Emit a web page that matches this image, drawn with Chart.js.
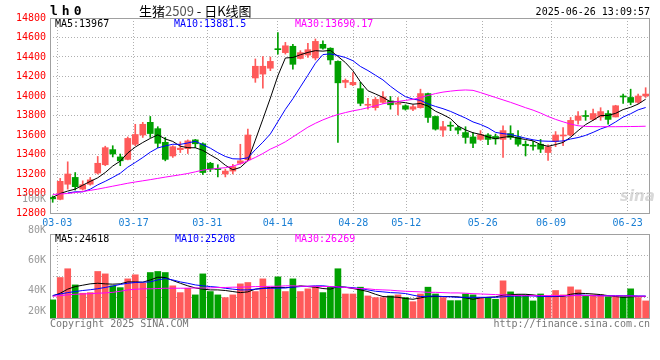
<!DOCTYPE html>
<html>
<head>
<meta charset="utf-8">
<script src="https://cdn.jsdelivr.net/npm/chart.js@4.4.1/dist/chart.umd.min.js"></script>
<style>
html, body { margin: 0; padding: 0; background: #fff; }
#wrap { position: relative; width: 660px; height: 360px; overflow: hidden; }
#wrap canvas { position: absolute; left: 0; top: 0; }
.t { position: absolute; font-family: "DejaVu Sans Mono", monospace; font-size: 10px; line-height: 12px; white-space: pre; }
</style>
</head>
<body>
<div id="wrap">
  <canvas id="kline" width="660" height="360"></canvas>
  <canvas id="vol" width="660" height="360"></canvas>

  <div class="t" style="left:50px;top:3px;font-size:13px;line-height:15px;font-weight:bold;letter-spacing:4px;">lh0</div>
  <div class="t" style="left:139px;top:4px;font-family:'Noto Sans CJK SC';font-size:13px;line-height:14px;">生猪<span style="color:#555">2509</span> - 日K线图</div>
  <div class="t" style="right:10px;top:6px;">2025-06-26 13:09:57</div>

  <div class="t" style="left:55px;top:18px;color:#000;">MA5:13967</div>
  <div class="t" style="left:174px;top:18px;color:#0000ff;">MA10:13881.5</div>
  <div class="t" style="left:295px;top:18px;color:#ff00ff;">MA30:13690.17</div>

  <div class="t" style="left:55px;top:233px;color:#000;">MA5:24618</div>
  <div class="t" style="left:175px;top:233px;color:#0000ff;">MA10:25208</div>
  <div class="t" style="left:295px;top:233px;color:#ff00ff;">MA30:26269</div>

  <div class="t" style="left:620px;top:190px;font-family:'DejaVu Sans';font-size:15px;font-style:italic;font-weight:bold;color:rgba(200,200,200,0.7);">sina</div>

  <div class="t" style="left:50px;top:318px;color:#777;">Copyright 2025 SINA.COM</div>
  <div class="t" style="right:10px;top:318px;color:#777;">http://finance.sina.com.cn</div>
</div>

<script>
// trading days shown
const dates = ['02-28','03-03','03-04','03-05','03-06','03-07','03-10','03-11','03-12','03-13','03-14','03-17','03-18','03-19','03-20','03-21','03-24','03-25','03-26','03-27','03-28','03-31','04-01','04-02','04-03','04-07','04-08','04-09','04-10','04-11','04-14','04-15','04-16','04-17','04-18','04-21','04-22','04-23','04-24','04-25','04-28','04-29','04-30','05-06','05-07','05-08','05-09','05-12','05-13','05-14','05-15','05-16','05-19','05-20','05-21','05-22','05-23','05-26','05-27','05-28','05-29','05-30','06-03','06-04','06-05','06-06','06-09','06-10','06-11','06-12','06-13','06-16','06-17','06-18','06-19','06-20','06-23','06-24','06-25','06-26'];

// price candles
const openP = [12960,12940,13095,13165,13045,13095,13210,13295,13450,13375,
  13350,13505,13600,13730,13665,13525,13385,13450,13460,13550,
  13510,13310,13255,13200,13230,13310,13345,14185,14225,14285,
  14485,14445,14510,14385,14420,14390,14530,14490,14355,14140,
  14115,14075,13905,13880,13935,13950,13915,13900,13865,13880,
  14025,13790,13650,13695,13675,13625,13580,13555,13600,13585,
  13555,13615,13580,13505,13490,13505,13420,13535,13590,13600,
  13750,13800,13760,13785,13820,13785,14000,13985,13935,14000];
const highP = [12975,13155,13325,13215,13130,13165,13380,13485,13490,13405,
  13580,13710,13730,13790,13685,13575,13490,13530,13550,13555,
  13520,13320,13295,13250,13300,13505,13660,14380,14405,14400,
  14650,14550,14530,14465,14540,14585,14565,14495,14360,14175,
  14240,14140,13975,13985,14045,13995,13985,13910,13910,14070,
  14030,13795,13740,13735,13690,13685,13625,13645,13615,13610,
  13695,13695,13645,13540,13535,13555,13500,13635,13675,13780,
  13840,13850,13865,13880,13850,13905,14020,14070,14020,14085];
const lowP = [12910,12935,13045,13035,13035,13085,13200,13285,13375,13285,
  13345,13490,13575,13575,13470,13335,13370,13420,13410,13470,
  13195,13225,13170,13170,13200,13300,13335,14140,14080,14260,
  14430,14430,14275,14380,14395,14370,14480,14325,13525,14085,
  14105,13900,13865,13855,13925,13865,13805,13855,13850,13875,
  13730,13650,13585,13645,13610,13515,13470,13545,13500,13505,
  13370,13555,13485,13385,13445,13420,13340,13480,13490,13590,
  13710,13750,13750,13750,13710,13785,13925,13910,13925,13985];
const closeP = [12945,13125,13200,13070,13090,13140,13310,13470,13405,13335,
  13565,13605,13710,13615,13515,13350,13480,13465,13540,13510,
  13215,13250,13245,13230,13275,13335,13600,14305,14305,14355,
  14475,14515,14325,14445,14475,14560,14490,14370,14135,14160,
  14140,13925,13915,13965,13990,13910,13925,13865,13890,14025,
  13780,13660,13685,13690,13650,13575,13515,13605,13555,13560,
  13645,13575,13505,13490,13485,13455,13480,13600,13600,13750,
  13795,13790,13820,13840,13760,13900,13990,13935,14000,14020];

// price moving averages as drawn
const ma5 = [12960,13000,13025,13045,13085,13124,13161,13215,13282,13332,
  13416,13476,13523,13565,13602,13559,13534,13485,13470,13469,
  13442,13396,13352,13290,13243,13267,13337,13548,13762,13979,
  14207,14390,14395,14423,14447,14465,14460,14468,14406,14343,
  14259,14145,14054,14021,13986,13941,13941,13931,13916,13923,
  13897,13844,13809,13768,13693,13652,13623,13606,13580,13562,
  13576,13587,13567,13554,13540,13502,13484,13502,13524,13577,
  13645,13707,13751,13799,13801,13822,13861,13884,13917,13967];
const ma10 = [null,null,13005,13017,13017,13044,13089,13125,13165,13208,
  13270,13318,13369,13424,13467,13488,13505,13504,13518,13535,
  13501,13465,13419,13380,13356,13354,13366,13450,13526,13611,
  13737,13863,13972,14093,14213,14336,14425,14432,14415,14395,
  14362,14303,14261,14213,14165,14100,14043,13993,13968,13955,
  13919,13893,13870,13842,13808,13774,13734,13708,13674,13627,
  13614,13605,13587,13567,13551,13539,13536,13535,13539,13559,
  13574,13596,13627,13662,13689,13734,13784,13818,13858,13882];
const ma30 = [12990,12995,13000,13010,13020,13032,13045,13060,13075,13090,
  13105,13118,13130,13142,13155,13168,13180,13192,13205,13222,
  13240,13250,13258,13265,13280,13305,13335,13370,13410,13455,
  13490,13530,13580,13630,13680,13720,13755,13785,13810,13830,
  13848,13862,13880,13900,13920,13935,13944,13955,13965,13985,
  14005,14025,14040,14050,14058,14062,14058,14035,14010,13985,
  13960,13935,13908,13880,13855,13825,13790,13760,13735,13712,
  13695,13688,13686,13685,13685,13685,13686,13687,13688,13690];

// volume
const vol = [33800,48600,54400,43700,38200,38600,52600,51000,43100,41900,
  47700,50400,44800,51900,52600,51900,43100,38600,41500,37100,
  51000,39300,37100,35300,37100,44400,45300,39300,47700,42200,
  49000,39300,47700,39300,41100,42600,38600,42200,54400,37700,
  37700,42200,36400,35300,35300,36400,37100,35300,32600,37700,
  42200,37700,35300,33300,33300,37700,37100,35300,35300,34200,
  46400,39100,37100,37100,33100,37700,36400,40000,37100,42400,
  40400,36400,37100,37100,36000,36000,36000,41100,35300,33100];
const volMa5 = [36400,38200,40900,42600,43500,44400,44800,44400,44200,44400,
  45700,45700,45500,47000,48800,48600,46600,44800,43100,41700,
  40900,40400,40400,40000,39300,38600,39100,40900,41500,41900,
  42200,41900,42200,43100,42600,42200,41300,40900,42600,42200,
  41300,40400,39300,37500,36000,35800,35500,34700,34200,35100,
  36000,36000,36000,36000,35800,35100,34200,35100,35500,35800,
  36900,37300,37500,37500,37100,36400,36000,36000,36200,37500,
  38200,38000,37700,37300,36600,36000,35500,35800,36000,36000];
const volMa10 = [36700,37700,38600,39300,40000,40500,41200,42000,43000,44000,
  44800,45300,45500,45700,47000,47900,47000,45700,44800,43700,
  43100,42600,42200,41500,40900,40400,40400,40900,41300,41500,
  41500,41700,42200,42600,42800,43100,43100,42600,42200,42200,
  41900,41300,40400,39500,39100,38600,38400,38000,36900,36000,
  36200,36400,36000,35800,35500,35500,35500,35500,35500,35500,
  35800,36200,36400,36400,36400,36000,36000,36200,36400,36600,
  37100,36900,36600,36600,36600,36600,36600,36600,36400,36400];
const volMa30 = [36200,36600,37100,37500,37700,37900,38200,38400,38800,39500,
  40400,40800,41100,41100,41300,41500,41500,41500,41500,41700,
  41700,41700,42000,42000,42200,42200,42400,42600,42600,42800,
  42800,43100,43100,42800,42800,42800,42600,42600,42400,42000,
  41500,41300,41100,40600,40400,40200,39800,39500,39300,39100,
  38800,38800,38600,38400,38400,38200,37900,37700,37500,37300,
  37100,36900,36600,36600,36600,36600,36600,36600,36600,36600,
  36600,36600,36600,36400,36400,36400,36400,36400,36200,36200];

// axis labels
const tickLabels = ['03-03','03-17','03-31','04-14','04-28','05-12','05-26','06-09','06-23'];
const tickPos = [0.61, 10.78, 20.6, 30.0, 40.05, 47.1, 57.3, 66.4, 76.6];
const volTickValues = [100000, 80000, 60000, 40000, 20000];
const volTickLabels = ['100K', '80K', '60K', '40K', '20K'];

const UP = '#ff5a5a';
const DOWN = '#00a000';
const GRID = '#b0b0b0';
const FRAME = '#a0a0a0';
const candleColor = openP.map((o, i) => closeP[i] >= o ? UP : DOWN);

Chart.defaults.font.family = '"DejaVu Sans Mono", monospace';
Chart.defaults.font.size = 10;

const frame = {
  id: 'frame',
  beforeDatasetsDraw(chart) {
    const a = chart.chartArea, ctx = chart.ctx;
    ctx.save();
    ctx.strokeStyle = FRAME;
    ctx.lineWidth = 1;
    ctx.strokeRect(Math.round(a.left) + 0.5, Math.round(a.top) + 0.5,
      Math.round(a.right - a.left) - 1, Math.round(a.bottom - a.top));
    ctx.restore();
  }
};

const volLabels = {
  id: 'volLabels',
  afterDraw(chart) {
    const s = chart.scales.y, a = chart.chartArea, ctx = chart.ctx;
    ctx.save();
    ctx.font = '10px "DejaVu Sans Mono"';
    ctx.fillStyle = '#999';
    ctx.textAlign = 'right';
    ctx.textBaseline = 'middle';
    volTickValues.forEach((v, i) => {
      const y = Math.min(s.getPixelForValue(v), a.bottom - 7);
      ctx.fillText(volTickLabels[i], a.left - 4, y);
    });
    ctx.restore();
  }
};

const xMin = -0.36, xMax = 79.58;

function xScale(showLabels) {
  return {
    type: 'linear',
    min: xMin,
    max: xMax,
    offset: false,
    bounds: 'data',
    afterBuildTicks: s => { s.ticks = tickPos.map(v => ({ value: v })); },
    afterFit: s => { s.height = showLabels ? 20 : 0; },
    grid: { color: GRID, offset: false, drawTicks: false },
    border: { display: false, dash: [1, 2] },
    ticks: {
      display: showLabels,
      autoSkip: false,
      maxRotation: 0,
      padding: 4,
      color: '#1a7fd4',
      callback: (v, i) => tickLabels[i]
    }
  };
}

const line = (data, color) => ({
  type: 'line',
  data: data.map((v, i) => ({ x: i, y: v })),
  borderColor: color,
  borderWidth: 1,
  pointRadius: 0,
  tension: 0,
  order: 0
});

// main candlestick panel
new Chart(document.getElementById('kline'), {
  type: 'bar',
  data: {
    datasets: [
      {
        data: dates.map((d, i) => ({ x: i, y: [lowP[i], highP[i]] })),
        backgroundColor: candleColor,
        barThickness: 1,
        grouped: false,
        order: 2
      },
      {
        data: dates.map((d, i) => ({ x: i, y: [openP[i], closeP[i]] })),
        backgroundColor: candleColor,
        barThickness: 6,
        minBarLength: 1,
        grouped: false,
        order: 1
      },
      line(ma30, '#ff00ff'),
      line(ma10, '#0000ff'),
      line(ma5, '#000000')
    ]
  },
  options: {
    responsive: false,
    devicePixelRatio: 1,
    animation: false,
    events: [],
    layout: { padding: { top: 18, right: 10, bottom: 127, left: 0 } },
    plugins: { legend: { display: false }, tooltip: { enabled: false } },
    scales: {
      x: xScale(true),
      y: {
        min: 12800,
        max: 14800,
        beginAtZero: false,
        afterFit: s => { s.width = 50; },
        grid: { color: GRID, drawTicks: false },
        border: { display: false, dash: [1, 2] },
        ticks: { stepSize: 200, color: '#ff0000', padding: 4, callback: v => String(v) }
      }
    }
  },
  plugins: [frame]
});

// volume panel
new Chart(document.getElementById('vol'), {
  type: 'bar',
  data: {
    datasets: [
      {
        data: vol.map((v, i) => ({ x: i, y: v })),
        backgroundColor: candleColor,
        barThickness: 6,
        grouped: false,
        order: 1
      },
      line(volMa30, '#ff00ff'),
      line(volMa10, '#0000ff'),
      line(volMa5, '#000000')
    ]
  },
  options: {
    responsive: false,
    devicePixelRatio: 1,
    animation: false,
    events: [],
    layout: { padding: { top: 234, right: 10, bottom: 42, left: 0 } },
    plugins: { legend: { display: false }, tooltip: { enabled: false } },
    scales: {
      x: xScale(false),
      y: {
        min: 21800,
        max: 77400,
        beginAtZero: false,
        afterFit: s => { s.width = 50; },
        afterBuildTicks: s => {
          const step = (s.max - s.min) / 4;
          s.ticks = [0, 1, 2, 3, 4].map(k => ({ value: s.min + k * step }));
        },
        grid: { color: GRID, drawTicks: false },
        border: { display: false, dash: [1, 2] },
        ticks: { display: false }
      }
    }
  },
  plugins: [frame, volLabels]
});
</script>
</body>
</html>
